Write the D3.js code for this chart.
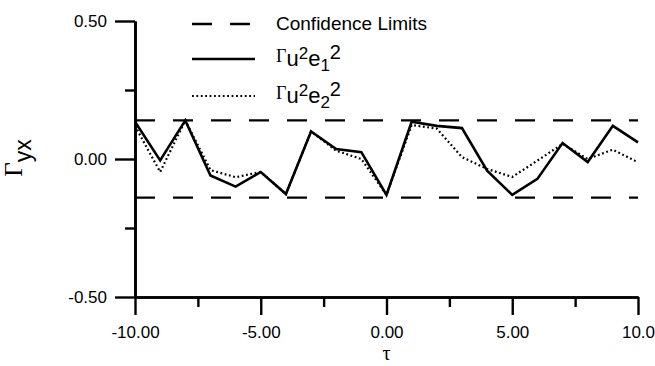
<!DOCTYPE html>
<html>
<head>
<meta charset="utf-8">
<script src="https://cdn.jsdelivr.net/npm/d3@7/dist/d3.min.js"></script>
<style>
  body { margin: 0; background: #fff; }
  svg { display: block; }
  .tick text { font-family: "Liberation Sans", Arial, sans-serif; font-size: 17px; fill: #000; }
</style>
</head>
<body>
<svg id="chart" width="655" height="366"></svg>
<script>
// lag values and the two cross-correlation series
const lags = [-10, -9, -8, -7, -6, -5, -4, -3, -2, -1, 0, 1, 2, 3, 4, 5, 6, 7, 8, 9, 10];
const rU2E1 = [0.135, -0.005, 0.14, -0.06, -0.10, -0.047, -0.127, 0.10, 0.036, 0.025, -0.13,
               0.135, 0.12, 0.112, -0.042, -0.13, -0.072, 0.058, -0.011, 0.12, 0.06];
const rU2E2 = [0.12, -0.047, 0.14, -0.04, -0.066, -0.047, -0.127, 0.10, 0.03, 0.0, -0.13,
               0.123, 0.11, 0.007, -0.036, -0.065, -0.006, 0.055, 0.0, 0.034, -0.012];
const confLimits = [0.14, -0.14];
const yMajorTicks = [-0.5, 0, 0.5];
const yTickLabels = ["-0.50", "0.00", "0.50"];
const yMinorTicks = [-0.25, 0.25];
const xMajorTicks = [-10, -5, 0, 5, 10];
const xTickLabels = ["-10.00", "-5.00", "0.00", "5.00", "10.0"];
const xMinorTicks = [-7.5, -2.5, 2.5, 7.5];

const svg = d3.select("#chart");
const padL = 135, padR = 638, padT = 21, padB = 297;

const x = d3.scaleLinear().domain([-10, 10]).range([padL, padR]);
const y = d3.scaleLinear().domain([-0.5, 0.5]).range([padB, padT]);

// confidence limits
svg.selectAll(".conf")
  .data(confLimits)
  .enter()
  .append("line")
  .attr("x1", x(-10))
  .attr("x2", x(10))
  .attr("y1", d => y(d))
  .attr("y2", d => y(d))
  .attr("stroke", "#000")
  .attr("stroke-width", 2.4)
  .attr("stroke-dasharray", "20,18");

const line = d3.line().x((d, i) => x(lags[i])).y(d => y(d));

svg.append("path")
  .datum(rU2E2)
  .attr("d", line)
  .attr("fill", "none")
  .attr("stroke", "#000")
  .attr("stroke-width", 2.2)
  .attr("stroke-dasharray", "1.8,2.6");

svg.append("path")
  .datum(rU2E1)
  .attr("d", line)
  .attr("fill", "none")
  .attr("stroke", "#000")
  .attr("stroke-width", 2.6)
  .attr("stroke-linejoin", "miter");

// axes
svg.append("g")
  .attr("transform", "translate(" + padL + ",0)")
  .call(d3.axisLeft(y).tickValues(yMajorTicks).tickSize(20).tickSizeOuter(0).tickPadding(8)
    .tickFormat((d, i) => yTickLabels[i]));
svg.append("g")
  .attr("transform", "translate(" + padL + ",0)")
  .call(d3.axisLeft(y).tickValues(yMinorTicks).tickSize(10).tickSizeOuter(0).tickFormat(""));

svg.append("g")
  .attr("transform", "translate(0," + padB + ")")
  .call(d3.axisBottom(x).tickValues(xMajorTicks).tickSize(18).tickSizeOuter(0).tickPadding(11)
    .tickFormat((d, i) => xTickLabels[i]));
svg.append("g")
  .attr("transform", "translate(0," + padB + ")")
  .call(d3.axisBottom(x).tickValues(xMinorTicks).tickSize(10).tickSizeOuter(0).tickFormat(""));

svg.selectAll(".domain, .tick line").attr("stroke", "#000").attr("stroke-width", 2.4);
svg.selectAll(".domain").attr("stroke-width", 2.6);

// axis titles
svg.append("text")
  .attr("x", (padL + padR) / 2)
  .attr("y", 360)
  .attr("text-anchor", "middle")
  .style("font-family", "'Liberation Serif', 'Times New Roman', serif")
  .style("font-size", "20px")
  .text("τ");

const yt = svg.append("text")
  .attr("transform", "translate(22,158) rotate(-90)")
  .attr("text-anchor", "middle");
yt.append("tspan")
  .style("font-family", "'Liberation Serif', 'Times New Roman', serif")
  .style("font-size", "25px")
  .text("Γ");
yt.append("tspan")
  .attr("dy", 9)
  .style("font-family", "'Liberation Sans', Arial, sans-serif")
  .style("font-size", "23px")
  .text("yx");

// legend
const lx1 = 192, lx2 = 255, tx = 276;
svg.append("line")
  .attr("x1", lx1).attr("x2", 250).attr("y1", 24).attr("y2", 24)
  .attr("stroke", "#000").attr("stroke-width", 2.4).attr("stroke-dasharray", "20,18");
svg.append("line")
  .attr("x1", lx1).attr("x2", lx2).attr("y1", 59).attr("y2", 59)
  .attr("stroke", "#000").attr("stroke-width", 2.6);
svg.append("line")
  .attr("x1", lx1).attr("x2", lx2).attr("y1", 96).attr("y2", 96)
  .attr("stroke", "#000").attr("stroke-width", 2.2).attr("stroke-dasharray", "1.8,2.6");

svg.append("text")
  .attr("x", tx).attr("y", 30)
  .style("font-family", "'Liberation Sans', Arial, sans-serif")
  .style("font-size", "19px")
  .text("Confidence Limits");

function seriesLabel(yBase, sub) {
  const t = svg.append("text").attr("x", tx).attr("y", yBase)
    .style("font-family", "'Liberation Sans', Arial, sans-serif");
  t.append("tspan").style("font-family", "'Liberation Serif', 'Times New Roman', serif")
    .style("font-size", "18px").text("Γ");
  t.append("tspan").attr("dy", 4).style("font-size", "22px").text("u");
  t.append("tspan").attr("dy", -7).style("font-size", "17px").text("2");
  t.append("tspan").attr("dy", 7).style("font-size", "22px").text("e");
  t.append("tspan").attr("dy", 5).style("font-size", "17px").text(sub);
  t.append("tspan").attr("dy", -12).style("font-size", "20px").text("2");
}
seriesLabel(62, "1");
seriesLabel(99, "2");
</script>
</body>
</html>
